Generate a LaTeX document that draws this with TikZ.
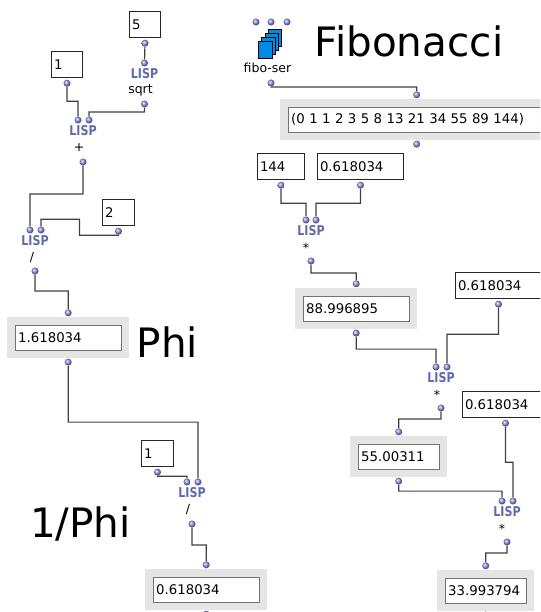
\documentclass[tikz,border=0pt]{standalone}
\usepackage{fontspec}
\setmainfont{DejaVu Sans}
\newfontfamily\lispfam[FakeStretch=0.82]{DejaVu Sans}
\usetikzlibrary{positioning}
\definecolor{lispblue}{RGB}{95,105,175}
\definecolor{portblue}{RGB}{150,150,240}
\definecolor{iconblue}{RGB}{0,140,230}

\begin{document}
\begin{tikzpicture}[x=1pt,y=-1pt,
    port/.style={circle,inner sep=0pt,minimum size=7pt,ball color=portblue},
    lisp/.style={inner sep=0pt,text=lispblue,font=\lispfam\bfseries\fontsize{13.5}{13}\selectfont},
    opname/.style={inner sep=0pt,font=\fontsize{12.5}{13}\selectfont},
    valbox/.style={draw=black!85,line width=1pt,fill=white,anchor=north west,inner xsep=2.5pt,inner ysep=0pt,minimum height=26pt,align=left,text width=#1,font=\fontsize{13.3}{15}\selectfont},
    resbox/.style={draw=black!55,fill=white,preaction={draw=black!10,line width=16pt},anchor=north west,inner xsep=3pt,inner ysep=0pt,minimum height=25pt,align=left,text width=#1,font=\fontsize{13.3}{15}\selectfont},
    title/.style={inner sep=0pt,font=\fontsize{40.5}{40}\selectfont},
    wire/.style={draw=black!75,line width=1.2pt}]
                \useasboundingbox (0,0) rectangle (540,612);
                \clip (0,0) rectangle (540,612);

                % golden ratio
                \node[valbox=26pt] (1) at (129,11) {5};
                \node[port, below=1.5pt of 1] (1o) {};
                \node[lisp] (2) at (144.5,74) {LISP};
                \node[port, yshift=11pt] (2a) at (2) {};
                \node[opname, xshift=-4pt, yshift=-16pt] (2l) at (2) {sqrt};
                \node[port, yshift=-30pt] (2o) at (2) {};

                \node[valbox=26pt] (3) at (51,51) {1};
                \node[port, below=1.5pt of 3] (3o) {};
                \node[lisp] (4) at (83,131) {LISP};
                \node[port, xshift=-5pt, yshift=11pt] (4a) at (4) {};
                \node[port, xshift=6pt, yshift=11pt] (4b) at (4) {};
                \node[opname, xshift=-4pt, yshift=-17pt] (4l) at (4) {+};
                \node[port, yshift=-31pt] (4o) at (4) {};

                \node[valbox=27pt] (5) at (102,199) {2};
                \node[port, below=1.5pt of 5] (5o) {};
                \node[lisp] (6) at (35,241) {LISP};
                \node[port, xshift=-5pt, yshift=11pt] (6a) at (6) {};
                \node[port, xshift=6pt, yshift=11pt] (6b) at (6) {};
                \node[opname, xshift=-3pt, yshift=-17pt] (6l) at (6) {/};
                \node[port, yshift=-30pt] (6o) at (6) {};

                \node[resbox=100pt] (7) at (15,325) {1.618034};
                \node[port, above=8.5pt of 7] (7i) {};
                \node[port, below=8pt of 7] (7o) {};
                \node[title] (8) at (167.5,342.5) {Phi};

                % inverse
                \node[valbox=27pt] (9) at (141,440) {1};
                \node[port, below=1.5pt of 9] (9o) {};
                \node[lisp] (10) at (192,493) {LISP};
                \node[port, xshift=-5pt, yshift=11pt] (10a) at (10) {};
                \node[port, xshift=6pt, yshift=11pt] (10b) at (10) {};
                \node[opname, xshift=-4pt, yshift=-17pt] (10l) at (10) {/};
                \node[port, yshift=-31pt] (10o) at (10) {};

                \node[resbox=100pt] (11) at (153,577) {0.618034};
                \node[port, above=8.5pt of 11] (11i) {};
                \node[port, below=8pt of 11] (11o) {};
                \node[title] (12) at (80.5,524) {1/Phi};

                % fibonacci series
                \filldraw[fill=iconblue, draw=black, line width=0.8pt] (268,29) rectangle (281,46);
                \filldraw[fill=iconblue, draw=black, line width=0.8pt] (265,33) rectangle (278,50);
                \filldraw[fill=iconblue, draw=black, line width=0.8pt] (261.5,37) rectangle (275,54);
                \filldraw[fill=iconblue, draw=black, line width=0.8pt] (258,41) rectangle (272,58);
                \node[port] (13a) at (256,22) {};
                \node[port] (13b) at (271,22) {};
                \node[port] (13c) at (287,22) {};
                \node[opname] (13l) at (267.5,68) {fibo-ser};
                \node[port] (13o) at (271,83) {};
                \node[title] (14) at (409,41.5) {Fibonacci};

                \node[resbox=251pt] (15) at (288,107) {(0 1 1 2 3 5 8 13 21 34 55 89 144)};
                \node[port, above=8.5pt of 15] (15i) {};
                \node[port, below=8pt of 15] (15o) {};

                \node[valbox=42pt] (16) at (257,153) {144};
                \node[port, below=1.5pt of 16] (16o) {};
                \node[valbox=81pt] (17) at (317,153) {0.618034};
                \node[port, below=1.5pt of 17] (17o) {};
                \node[lisp] (18) at (311,231) {LISP};
                \node[port, xshift=-5pt, yshift=11pt] (18a) at (18) {};
                \node[port, xshift=5pt, yshift=11pt] (18b) at (18) {};
                \node[opname, xshift=-5pt, yshift=-17pt] (18l) at (18) {*};
                \node[port, yshift=-30pt] (18o) at (18) {};

                \node[resbox=100pt] (19) at (303,296) {88.996895};
                \node[port, above=8.5pt of 19] (19i) {};
                \node[port, below=8pt of 19] (19o) {};

                \node[valbox=81pt] (20) at (455,272) {0.618034};
                \node[port, below=1.5pt of 20] (20o) {};
                \node[lisp] (21) at (441,378) {LISP};
                \node[port, xshift=-5pt, yshift=11pt] (21a) at (21) {};
                \node[port, xshift=6pt, yshift=11pt] (21b) at (21) {};
                \node[opname, xshift=-4pt, yshift=-17pt] (21l) at (21) {*};
                \node[port, yshift=-30pt] (21o) at (21) {};

                \node[resbox=75pt] (22) at (358,444) {55.00311};
                \node[port, above=8.5pt of 22] (22i) {};
                \node[port, below=8pt of 22] (22o) {};

                \node[valbox=81pt] (23) at (462,391) {0.618034};
                \node[port, below=1.5pt of 23] (23o) {};
                \node[lisp] (24) at (507,512) {LISP};
                \node[port, xshift=-5pt, yshift=11pt] (24a) at (24) {};
                \node[port, xshift=6pt, yshift=11pt] (24b) at (24) {};
                \node[opname, xshift=-5pt, yshift=-17pt] (24l) at (24) {*};
                \node[port, yshift=-30pt] (24o) at (24) {};

                \node[resbox=75pt] (25) at (445,578) {33.993794};
                \node[port, above=8.5pt of 25] (25i) {};
                \node[port, below=8pt of 25] (25o) {};

                \path[wire]
                    (1o) -- (2a)
                    (3o) -- ++(0,18) -| (4a)
                    (2o) -- ++(0,8) -| (4b)
                    (4o) -- ++(0,32) -| (6a)
                    (5o) -- ++(0,4) -| ++(-39,-16) -| (6b)
                    (6o) -- ++(0,20) -| (7i)
                    (7o) -- ++(0,60) -| (10b)
                    (9o) -- ++(0,4) -| (10a)
                    (10o) -- ++(0,21) -| (11i)
                    (13o) -- ++(0,4) -| (15i)
                    (16o) -- ++(0,18) -| (18a)
                    (17o) -- ++(0,18) -| (18b)
                    (18o) -- ++(0,12) -| (19i)
                    (19o) -- ++(0,16) -| (21a)
                    (20o) -- ++(0,30) -| (21b)
                    (21o) -- ++(0,11) -| (22i)
                    (22o) -- ++(0,10) -| (24a)
                    (23o) -- ++(0,39) -| (24b)
                    (24o) -- ++(0,11) -| (25i)
                ;
            \end{tikzpicture}
\end{document}
